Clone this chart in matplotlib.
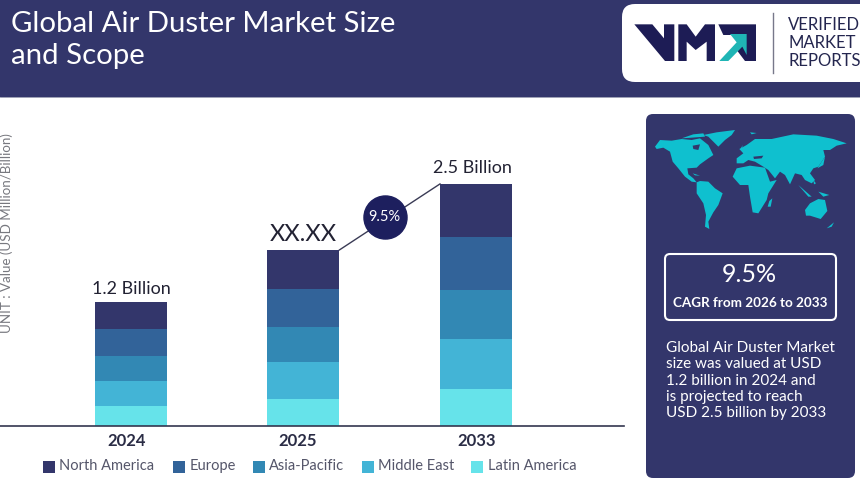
# -*- coding: utf-8 -*-
import matplotlib
matplotlib.use('Agg')
import matplotlib.pyplot as plt
from matplotlib.patches import FancyBboxPatch, Polygon, Rectangle

plt.rcParams['font.family'] = ['Lato', 'DejaVu Sans']

years = ['2024', '2025', '2033']
regions = ['North America', 'Europe', 'Asia-Pacific', 'Middle East', 'Latin America']
colors = ['#33366b', '#326399', '#3288b4', '#43b4d6', '#66e3ea']

# stacked bottom to top
latin_america = [0.207, 0.279, 0.382]
middle_east = [0.258, 0.382, 0.517]
asia_pacific = [0.258, 0.362, 0.506]
europe = [0.279, 0.393, 0.548]
north_america = [0.279, 0.403, 0.548]

bar_labels = ['1.2 Billion', 'XX.XX', '2.5 Billion']
cagr = '9.5%'

navy = '#33366b'
W, H = 860, 484

fig = plt.figure(figsize=(8.6, 4.84), dpi=100)

# background layer in pixel coordinates
bg = fig.add_axes([0, 0, 1, 1])
bg.set_xlim(0, W)
bg.set_ylim(H, 0)
bg.axis('off')


def shape(points, ox, oy, color):
    # outlines were traced on 3x crops, ox/oy is the crop corner
    bg.add_patch(Polygon([(ox + x / 3, oy + y / 3) for x, y in points], fc=color, ec='none'))


bg.add_patch(Rectangle((0, 0), W, 97, color=navy, lw=0))
bg.plot([0, W], [97.3, 97.3], color='#8d90a8', lw=0.6)
bg.text(11, 24, 'Global Air Duster Market Size', color='white', fontsize=21.2, va='center')
bg.text(11, 56, 'and Scope', color='white', fontsize=21.2, va='center')

# logo
bg.add_patch(FancyBboxPatch((622, 4), 280, 78, boxstyle='round,pad=0,rounding_size=13',
                            fc='white', ec='none'))
logo_dark = '#1d1c55'
shape([(28, 43), (82, 43), (117, 85), (117, 43), (148, 43), (148, 153), (120, 153)], 625, 10, logo_dark)
shape([(160, 153), (160, 43), (185, 43), (212, 80), (240, 43), (270, 43), (270, 153), (245, 153),
       (245, 95), (212, 120), (185, 95), (185, 153)], 625, 10, logo_dark)
shape([(280, 43), (393, 43), (393, 153), (360, 153), (335, 120), (345, 75), (295, 75)], 625, 10, logo_dark)
shape([(283, 153), (335, 97), (315, 72), (365, 72), (365, 135), (352, 110), (310, 153)], 625, 10, '#1fb5b5')
bg.plot([773, 773], [13, 73], color='#77788a', lw=1)
for y, word in zip([25, 43, 61], ['VERIFIED', 'MARKET', 'REPORTS']):
    bg.text(788, y, word, color='#24264f', fontsize=12, va='center')

# right panel
bg.add_patch(FancyBboxPatch((646, 114), 209, 364, boxstyle='round,pad=0,rounding_size=7',
                            fc=navy, ec='none'))
map_color = '#0fc0cf'
americas = [
    [(15, 65), (30, 45), (65, 47), (95, 42), (125, 45), (150, 40), (175, 60), (190, 90), (175, 100),
     (150, 118), (140, 128), (112, 130), (115, 148), (130, 160), (140, 172), (125, 170), (105, 155),
     (85, 130), (68, 110), (60, 80), (40, 68), (20, 72)],
    [(95, 40), (130, 28), (160, 25), (165, 35), (125, 38)],
    [(160, 30), (200, 22), (255, 15), (245, 30), (225, 45), (205, 65), (190, 50), (175, 35)],
    [(128, 145), (150, 152), (135, 151)],
    [(140, 172), (150, 168), (175, 170), (195, 190), (218, 205), (205, 240), (190, 262), (175, 290),
     (178, 312), (165, 305), (168, 270), (160, 235), (140, 205)],
]
old_world = [
    [(20, 100), (40, 85), (28, 72), (50, 60), (75, 42), (125, 42), (190, 28), (260, 32), (310, 42),
     (350, 55), (320, 62), (300, 75), (280, 75), (285, 95), (265, 125), (250, 130), (240, 145),
     (255, 165), (245, 175), (225, 165), (215, 150), (195, 145), (180, 178), (165, 150), (150, 140),
     (135, 160), (115, 135), (100, 125), (75, 110), (55, 105), (40, 115), (20, 115)],
    [(8, 155), (20, 130), (60, 122), (105, 128), (120, 170), (140, 165), (115, 205), (110, 225),
     (85, 265), (68, 262), (60, 215), (55, 180), (30, 180)],
    [(118, 228), (127, 220), (122, 245), (113, 245)],
    [(225, 255), (240, 235), (265, 222), (285, 225), (292, 258), (272, 282), (240, 272), (228, 272)],
    [(205, 180), (245, 215), (235, 215)],
    [(265, 200), (298, 210), (280, 215)],
    [(250, 165), (258, 175), (252, 178)],
    [(275, 110), (285, 95), (280, 120), (262, 130)],
    [(290, 310), (312, 292), (305, 305)],
    [(30, 75), (38, 60), (35, 75)],
    [(60, 22), (80, 24), (65, 28)],
]
for points in americas:
    shape(points, 650, 125, map_color)
for points in old_world:
    shape(points, 730, 125, map_color)
# hudson bay, black sea
shape([(128, 62), (150, 58), (145, 75), (130, 72)], 650, 125, navy)
shape([(70, 95), (100, 92), (95, 100), (72, 102)], 730, 125, navy)

bg.add_patch(FancyBboxPatch((665, 254), 171, 66, boxstyle='round,pad=0,rounding_size=5',
                            fc='none', ec='white', lw=1.5))
bg.text(749.5, 274, cagr, color='white', fontsize=18, ha='center', va='center')
bg.text(750, 303, 'CAGR from 2026 to 2033', color='white', fontsize=9.7,
        fontweight='bold', ha='center', va='center')
panel_lines = ['Global Air Duster Market', 'size was valued at USD', '1.2 billion in 2024 and',
               'is projected to reach', 'USD 2.5 billion by 2033']
for y, line in zip([348, 364, 381, 397, 413], panel_lines):
    bg.text(666, y, line, color='white', fontsize=11, va='center')

bg.text(7, 233, 'UNIT : Value (USD Million/Billion)', color='#77787f', fontsize=9.6,
        rotation=90, ha='center', va='center')

# legend, gaps are uneven in the original so it is placed by hand
for sx, tx, c, name in zip([43, 173, 253, 362, 471], [59, 190, 269, 378, 488], colors, regions):
    bg.add_patch(Rectangle((sx, 461), 12, 12, color=c, lw=0))
    bg.text(tx, 466, name, color='#55566a', fontsize=10.5, va='center')

# bars
ax = fig.add_axes([0, (H - 426) / H, 624 / W, 326 / H])
ax.patch.set_alpha(0)
ax.set_xlim(-0.759, 2.858)
ax.set_ylim(0, 3.368)

stack = [latin_america, middle_east, asia_pacific, europe, north_america]
bottoms = [0, 0, 0]
for vals, c in zip(stack, colors[::-1]):
    ax.bar(range(3), vals, width=0.417, bottom=bottoms, color=c)
    bottoms = [b + v for b, v in zip(bottoms, vals)]

label_shift = [0, 0, -0.023]
for i, label in enumerate(bar_labels):
    size = 17 if label == 'XX.XX' else 13
    raise_by = 0.08 if i == 2 else 0.05
    ax.text(i + label_shift[i], bottoms[i] + raise_by, label, ha='center', va='bottom', fontsize=size,
            color='#222233')

# growth line with the cagr bubble on it
x_line = [1 + 0.417 / 2, 2 - 0.417 / 2]
y_line = [bottoms[1], bottoms[2]]
ax.plot(x_line, y_line, color='#3a3b55', lw=1)
ax.plot([1.47], [(y_line[0] + y_line[1]) / 2], marker='o', ms=31, color='#1d1f5e', zorder=5)
ax.text(1.47, (y_line[0] + y_line[1]) / 2, cagr, color='white', fontsize=10.5,
        ha='center', va='center', zorder=6)

# year labels do not sit quite under the bars in the original
ax.set_xticks([-0.023, 0.968, 2.006])
ax.set_xticklabels(years, fontsize=12, fontweight='bold', color='#2a2c45')
ax.tick_params(axis='x', length=0, pad=5)
ax.set_yticks([])
for side in ['top', 'left', 'right']:
    ax.spines[side].set_visible(False)
ax.spines['bottom'].set_color('#33364f')
ax.spines['bottom'].set_linewidth(1.2)

fig.savefig('out.png', dpi=100)
